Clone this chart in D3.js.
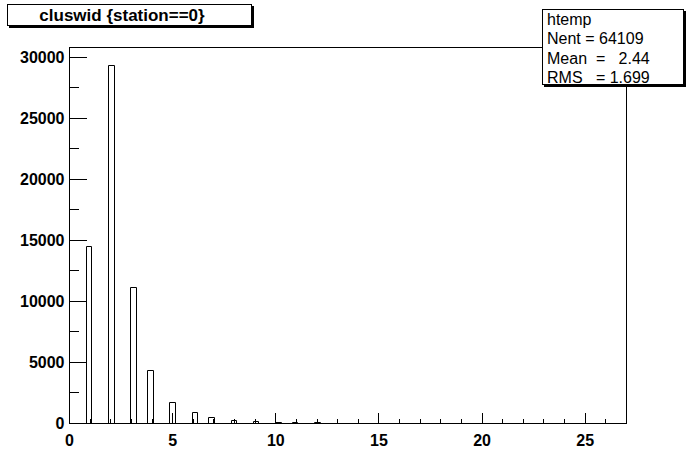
<!DOCTYPE html>
<html>
<head>
<meta charset="utf-8">
<script src="https://cdn.jsdelivr.net/npm/d3@7"></script>
<style>
  body { margin: 0; background: #fff; }
  svg { display: block; }
  text { font-family: "Liberation Sans", Arial, sans-serif; }
</style>
</head>
<body>
<script>
// ---- data ----
const clusterWidths = [1, 2, 3, 4, 5, 6, 7, 8, 9, 10, 11, 12, 13];
const counts = [14500, 29330, 11120, 4320, 1700, 880, 490, 250, 150, 110, 70, 50, 35];
const xMajorTicks = [0, 5, 10, 15, 20, 25];
const xMinorTicks = d3.range(0, 27, 1);
const yMajorTicks = [0, 5000, 10000, 15000, 20000, 25000, 30000];
const yMinorTicks = d3.range(0, 30001, 2500);
const histRange = [0, 27];
const nBins = 100;
const titleText = "cluswid {station==0}";
const statsLines = ["htemp", "Nent = 64109", "Mean  =   2.44", "RMS   = 1.699"];

// ---- layout ----
const W = 696, H = 472;
const fLeft = 69, fRight = 626, fTop = 47, fBottom = 423;
const yMax = 30800;

const svg = d3.select("body").append("svg").attr("width", W).attr("height", H);
svg.append("rect").attr("width", W).attr("height", H).attr("fill", "#fff");

const x = d3.scaleLinear().domain(histRange).range([fLeft, fRight]);
const y = d3.scaleLinear().domain([0, yMax]).range([fBottom, fTop]);
const binW = (histRange[1] - histRange[0]) / nBins;

const bars = clusterWidths.map((v, i) => {
  const b = Math.floor((v - histRange[0]) / binW + 1e-9);
  return { lo: histRange[0] + b * binW, hi: histRange[0] + (b + 1) * binW, c: counts[i] };
});

// bars (outline)
svg.append("g").selectAll("path").data(bars).join("path")
  .attr("d", d => {
    const x0 = Math.round(x(d.lo)) + 0.5, x1 = Math.round(x(d.hi)) + 0.5;
    const yt = Math.round(y(d.c)) + 0.5, yb = fBottom + 0.5;
    return `M${x0},${yb}V${yt}H${x1}V${yb}`;
  })
  .attr("fill", "none").attr("stroke", "#000").attr("stroke-width", 1);

// axes
const fontAxis = "bold 16px 'Liberation Sans', Arial, sans-serif";
const gy = svg.append("g").attr("transform", `translate(${fLeft + 0.5},0)`)
  .call(d3.axisLeft(y).tickValues(yMajorTicks).tickSize(-17).tickPadding(5).tickFormat(d3.format("d")));
const gym = svg.append("g").attr("transform", `translate(${fLeft + 0.5},0)`)
  .call(d3.axisLeft(y).tickValues(yMinorTicks).tickSize(-9).tickFormat(""));
const gx = svg.append("g").attr("transform", `translate(0,${fBottom + 0.5})`)
  .call(d3.axisBottom(x).tickValues(xMajorTicks).tickSize(-11).tickPadding(11).tickFormat(d3.format("d")));
const gxm = svg.append("g").attr("transform", `translate(0,${fBottom + 0.5})`)
  .call(d3.axisBottom(x).tickValues(xMinorTicks).tickSize(-5).tickFormat(""));
[gy, gym, gx, gxm].forEach(g => {
  g.select(".domain").remove();
  g.selectAll("line").attr("stroke", "#000").attr("shape-rendering", "crispEdges");
  g.selectAll("text").attr("fill", "#000").style("font", fontAxis);
});
gy.selectAll(".tick text").attr("dy", "0.36em");

// frame
svg.append("rect").attr("x", fLeft + 0.5).attr("y", fTop + 0.5)
  .attr("width", fRight - fLeft).attr("height", fBottom - fTop)
  .attr("fill", "none").attr("stroke", "#000").attr("stroke-width", 1);

// boxes with shadow
function shadowBox(x0, y0, w, h) {
  svg.append("rect").attr("x", x0 + 2).attr("y", y0 + 2).attr("width", w + 1).attr("height", h + 1).attr("fill", "#000");
  svg.append("rect").attr("x", x0 + 0.5).attr("y", y0 + 0.5).attr("width", w).attr("height", h)
    .attr("fill", "#fff").attr("stroke", "#000").attr("stroke-width", 1);
}
shadowBox(7, 4, 244, 21);
svg.append("text").attr("x", 122).attr("y", 21).attr("text-anchor", "middle")
  .style("font", "bold 17px 'Liberation Sans', Arial, sans-serif").attr("fill", "#000")
  .text(titleText);

shadowBox(542, 9, 141, 75);
svg.append("g").selectAll("text").data(statsLines).join("text")
  .attr("x", 547).attr("y", (d, i) => 25 + i * 19.3)
  .style("font", "16px 'Liberation Sans', Arial, sans-serif").style("white-space", "pre")
  .attr("xml:space", "preserve").attr("fill", "#000")
  .text(d => d);
</script>
</body>
</html>
